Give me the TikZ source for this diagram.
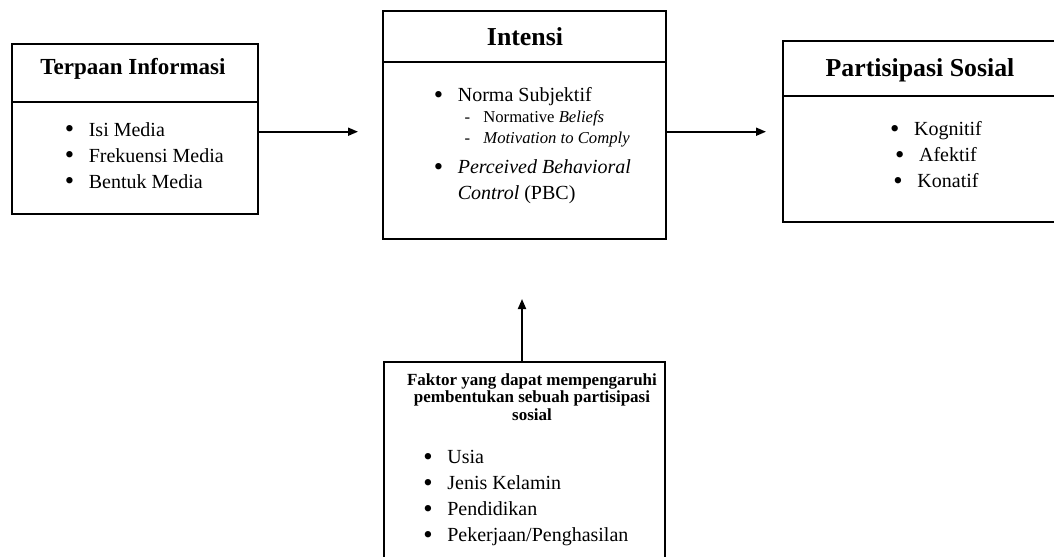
\documentclass[tikz,border=0pt]{standalone}
\usepackage{fontspec}
\setmainfont{Liberation Serif}
\usetikzlibrary{fit,arrows.meta}
\newcommand{\blt}{\raisebox{-0.9pt}{\fontsize{16}{16}\selectfont\textbullet}}
\newcommand{\itm}[1]{\makebox[14.4pt][l]{\blt}#1}
\newcommand{\dsh}[1]{\makebox[11.3pt][l]{-}#1}
\begin{document}
\begin{tikzpicture}[
        x=0.6pt, y=-0.6pt,
        cell/.style={draw, line width=1.1pt, inner sep=0pt},
        ttl/.style={inner sep=0pt, anchor=base, font=\fontsize{15.5}{18}\selectfont\bfseries},
        lst/.style={inner sep=0pt, anchor=base west, align=left, font=\fontsize{12}{15.6}\selectfont},
        subitem/.style={inner sep=0pt, anchor=base west, align=left, font=\fontsize{10}{12.6}\selectfont},
        arr/.style={draw, line width=1.1pt, -{Triangle[length=6pt,width=4.8pt]}},
    ]
    \useasboundingbox (0,0) rectangle (1054,556);
    % boxes
    \node[cell, fit={(12,44) (258,102)}](infoT){};
    \node[cell, fit={(12,102) (258,214)}](infoB){};
    \node[cell, fit={(383,11) (666,62)}](intT){};
    \node[cell, fit={(383,62) (666,239)}](intB){};
    \node[cell, fit={(783,41) (1057,96)}](partT){};
    \node[cell, fit={(783,96) (1057,222)}](partB){};
    \node[cell, fit={(384,362) (665,562)}](fak){};
    % texts (multi-line nodes sit on their last line)
    \node[ttl, font=\fontsize{13.8}{17}\selectfont\bfseries](infoTxt) at (133,74){Terpaan Informasi};
    \node[lst](infoLst) at (64.5,188){\itm{Isi Media}\\ \itm{Frekuensi Media}\\ \itm{Bentuk Media}};
    \node[ttl](intTxt) at (525,45){Intensi};
    \node[lst](norma) at (433.5,101.5){\itm{Norma Subjektif}};
    \node[subitem](normaSub) at (464.2,143.5){\dsh{Normative \textit{Beliefs}}\\ \dsh{\textit{Motivation to Comply}}};
    \node[lst](pbc) at (433.5,199.5){\itm{\textit{Perceived Behavioral}}\\ \hspace*{14.4pt}\textit{Control} (PBC)};
    \node[ttl](partTxt) at (920,76){Partisipasi Sosial};
    \node[lst, anchor=base, align=center](partLst) at (936,187.5){\itm{Kognitif}\\ \itm{Afektif}\\ \itm{Konatif}};
    \node[ttl, align=center, font=\fontsize{10.2}{10.5}\selectfont\bfseries](fakTxt) at (532,420){Faktor yang dapat mempengaruhi\\ pembentukan sebuah partisipasi\\ sosial};
    \node[lst](fakLst) at (423,541.5){\itm{Usia}\\ \itm{Jenis Kelamin}\\ \itm{Pendidikan}\\ \itm{Pekerjaan/Penghasilan}};
    % arrows
    \coordinate (tipInfo) at (358,131.7);
    \coordinate (tipInt) at (766,131.7);
    \coordinate (tipFak) at (522,299);
    \draw[arr] (infoB.east |- tipInfo) -- (tipInfo);
    \draw[arr] (intB.east |- tipInt) -- (tipInt);
    \draw[arr] (tipFak |- fak.north) -- (tipFak);
\end{tikzpicture}
\end{document}
